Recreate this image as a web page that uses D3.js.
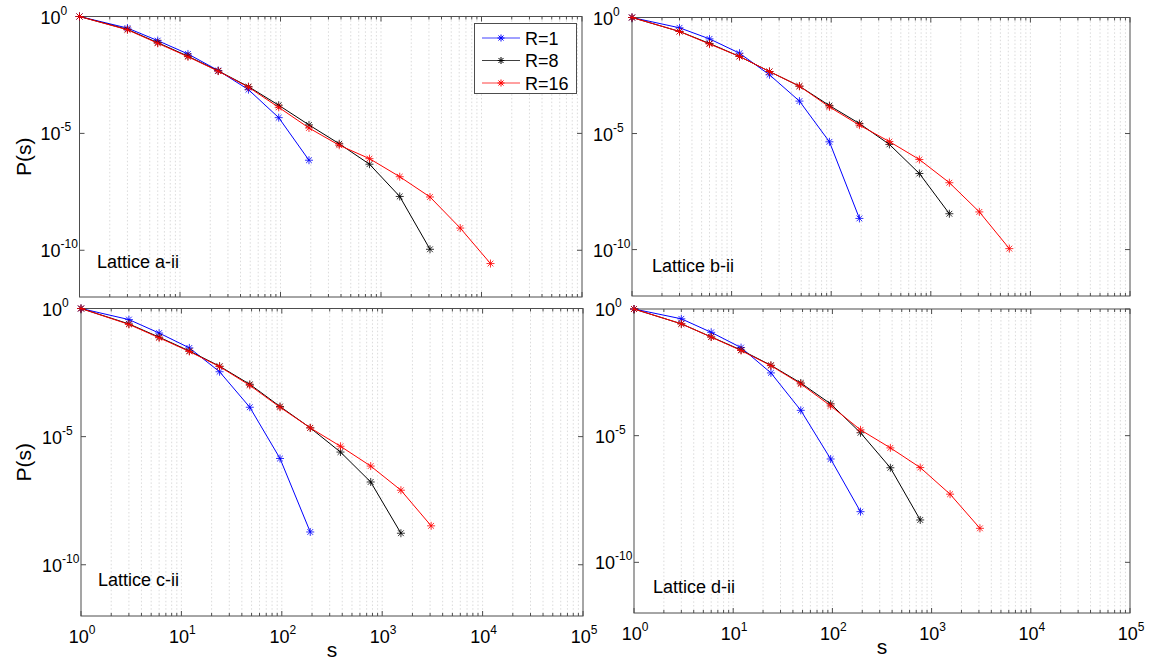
<!DOCTYPE html>
<html>
<head>
<meta charset="utf-8">
<script src="https://cdn.jsdelivr.net/npm/d3@7"></script>
<style>
  html, body { margin: 0; padding: 0; background: #fff; }
  svg { display: block; font-family: "Liberation Sans", Arial, sans-serif; }
</style>
</head>
<body>
<svg id="chart" width="1152" height="665"></svg>
<script>
// Avalanche size s (bin positions shared by every series)
const sizes = [1, 3, 6, 12, 24, 48, 96, 192, 384, 768, 1536, 3072, 6144, 12288];

// Series labels and colours
const seriesNames = ["R=1", "R=8", "R=16"];
const seriesColors = ["#0000ff", "#000000", "#ff0000"];

// P(s) for lattice a-ii
const aR1  = [1, 3.2e-1, 9.3e-2, 2.5e-2, 4.9e-3, 7.4e-4, 4.7e-5, 7.1e-7];
const aR8  = [1, 2.8e-1, 7.6e-2, 2.0e-2, 4.7e-3, 1.0e-3, 1.6e-4, 2.3e-5, 3.6e-6, 4.8e-7, 2.0e-8, 1.1e-10];
const aR16 = [1, 2.7e-1, 7.2e-2, 1.9e-2, 4.6e-3, 9.5e-4, 1.3e-4, 1.7e-5, 3.1e-6, 8.3e-7, 1.4e-7, 1.9e-8, 8.9e-10, 2.7e-11];

// P(s) for lattice b-ii
const bR1  = [1, 3.6e-1, 1.2e-1, 2.9e-2, 3.4e-3, 2.5e-4, 4.4e-6, 2.2e-9];
const bR8  = [1, 2.5e-1, 7.6e-2, 2.1e-2, 4.7e-3, 1.1e-3, 1.6e-4, 2.7e-5, 3.4e-6, 1.9e-7, 3.5e-9];
const bR16 = [1, 2.5e-1, 7.2e-2, 2.1e-2, 4.7e-3, 1.1e-3, 1.4e-4, 2.3e-5, 4.5e-6, 7.6e-7, 7.6e-8, 4.2e-9, 1.1e-10];

// P(s) for lattice c-ii
const cR1  = [1, 3.7e-1, 1.1e-1, 2.9e-2, 3.4e-3, 1.4e-4, 1.4e-6, 1.9e-9];
const cR8  = [1, 2.5e-1, 7.6e-2, 2.2e-2, 5.6e-3, 1.1e-3, 1.5e-4, 2.2e-5, 2.5e-6, 1.7e-7, 1.7e-9];
const cR16 = [1, 2.4e-1, 7.2e-2, 2.1e-2, 5.4e-3, 1.0e-3, 1.4e-4, 2.2e-5, 4.2e-6, 7.1e-7, 8.1e-8, 3.3e-9];

// P(s) for lattice d-ii
const dR1  = [1, 4.1e-1, 1.2e-1, 3.0e-2, 3.0e-3, 1.0e-4, 1.2e-6, 1.0e-8];
const dR8  = [1, 2.6e-1, 7.9e-2, 2.4e-2, 6.0e-3, 1.2e-3, 1.8e-4, 1.3e-5, 5.4e-7, 4.7e-9];
const dR16 = [1, 2.6e-1, 7.8e-2, 2.3e-2, 5.8e-3, 1.1e-3, 1.5e-4, 1.7e-5, 3.3e-6, 5.5e-7, 4.9e-8, 2.2e-9];

// Axis ticks
const xTickExps = [0, 1, 2, 3, 4, 5];
const yTickExps = [0, -5, -10];
const panelTitles = ["Lattice a-ii", "Lattice b-ii", "Lattice c-ii", "Lattice d-ii"];

// Subplot frames (pixels) and per-panel decorations
const layout = [
  { x0: 79.5, x1: 582, y0: 16.5, y1: 297, xLabels: false, yTitle: true,  legend: true,  tx: 97,  ty: 268 },
  { x0: 632,  x1: 1130, y0: 17.5, y1: 296, xLabels: false, yTitle: false, legend: false, tx: 652, ty: 272 },
  { x0: 81,   x1: 583, y0: 308.5, y1: 616, xLabels: true,  yTitle: true,  legend: false, tx: 98,  ty: 586 },
  { x0: 634,  x1: 1130, y0: 309, y1: 613, xLabels: true,  yTitle: false, legend: false, tx: 653, ty: 593 }
];
const panelSeries = [
  [aR1, aR8, aR16],
  [bR1, bR8, bR16],
  [cR1, cR8, cR16],
  [dR1, dR8, dR16]
];

const svg = d3.select("#chart");
const axisColor = "#4d4d4d";

// Asterisk marker centred on the origin
function asterisk(r) {
  const d = r * 0.72;
  return `M${-r},0H${r}M0,${-r}V${r}M${-d},${-d}L${d},${d}M${-d},${d}L${d},${-d}`;
}

// "10" with a superscript exponent
function powerLabel(sel, exp) {
  sel.append("tspan").text("10");
  sel.append("tspan").attr("dy", -9).attr("font-size", 12).text(exp);
}

layout.forEach((L, pi) => {
  const g = svg.append("g");
  const x = d3.scaleLog().domain([1, 1e5]).range([L.x0, L.x1]);
  const y = d3.scaleLog().domain([1e-12, 1]).range([L.y1, L.y0]);

  g.append("rect").attr("x", L.x0).attr("y", L.y0)
    .attr("width", L.x1 - L.x0).attr("height", L.y1 - L.y0).attr("fill", "#fff");

  // x positions of major and minor ticks
  const xMinor = [];
  for (let k = 0; k < 5; k++) for (let m = 2; m <= 9; m++) xMinor.push(m * Math.pow(10, k));
  const xMajor = xTickExps.map(e => Math.pow(10, e));

  // dotted vertical grid
  g.selectAll(".grid").data(xMinor.concat(xMajor.slice(1, -1))).enter().append("line")
    .attr("x1", d => x(d)).attr("x2", d => x(d))
    .attr("y1", L.y0).attr("y2", L.y1)
    .attr("stroke", "#d2d2d2").attr("stroke-width", 0.8)
    .attr("stroke-dasharray", "1.5,2.2");

  // inward ticks on bottom and top edges
  const xt = xMinor.map(v => ({ v, len: 3 })).concat(xMajor.map(v => ({ v, len: 5 })));
  [L.y1, L.y0].forEach((yy, side) => {
    g.selectAll(null).data(xt).enter().append("line")
      .attr("x1", d => x(d.v)).attr("x2", d => x(d.v))
      .attr("y1", yy).attr("y2", d => side === 0 ? yy - d.len : yy + d.len)
      .attr("stroke", axisColor).attr("stroke-width", 1);
  });
  // inward ticks on left and right edges
  [L.x0, L.x1].forEach((xx, side) => {
    g.selectAll(null).data(yTickExps).enter().append("line")
      .attr("x1", xx).attr("x2", side === 0 ? xx + 5 : xx - 5)
      .attr("y1", d => y(Math.pow(10, d))).attr("y2", d => y(Math.pow(10, d)))
      .attr("stroke", axisColor).attr("stroke-width", 1);
  });

  // frame
  g.append("rect").attr("x", L.x0).attr("y", L.y0)
    .attr("width", L.x1 - L.x0).attr("height", L.y1 - L.y0)
    .attr("fill", "none").attr("stroke", axisColor).attr("stroke-width", 1);

  // y tick labels
  yTickExps.forEach(e => {
    const t = g.append("text").attr("x", L.x0 - 39).attr("y", y(Math.pow(10, e)) + 7)
      .attr("font-size", 18).attr("fill", "#000");
    powerLabel(t, e === 0 ? "0" : "-" + Math.abs(e));
  });

  // x tick labels
  if (L.xLabels) {
    xTickExps.forEach(e => {
      const t = g.append("text").attr("x", x(Math.pow(10, e)) + 1).attr("y", L.y1 + 27)
        .attr("font-size", 18).attr("fill", "#000").attr("text-anchor", "middle");
      powerLabel(t, String(e));
    });
    g.append("text").attr("x", (L.x0 + L.x1) / 2).attr("y", L.y1 + 41)
      .attr("font-size", 21).attr("text-anchor", "middle").attr("fill", "#000").text("s");
  }

  if (L.yTitle) {
    const cy = (L.y0 + L.y1) / 2;
    g.append("text").attr("transform", `translate(31,${cy}) rotate(-90)`)
      .attr("font-size", 21).attr("text-anchor", "middle").attr("fill", "#000").text("P(s)");
  }

  // series lines and markers
  panelSeries[pi].forEach((vals, si) => {
    const pts = vals.map((v, i) => [sizes[i], v]);
    g.append("path").datum(pts)
      .attr("d", d3.line().x(d => x(d[0])).y(d => y(d[1])))
      .attr("fill", "none").attr("stroke", seriesColors[si]).attr("stroke-width", 1);
    g.selectAll(null).data(pts).enter().append("path")
      .attr("transform", d => `translate(${x(d[0])},${y(d[1])})`)
      .attr("d", asterisk(4))
      .attr("fill", "none").attr("stroke", seriesColors[si]).attr("stroke-width", 1)
      .attr("stroke-opacity", 0.8);
  });

  g.append("text").attr("x", L.tx).attr("y", L.ty)
    .attr("font-size", 18).attr("fill", "#000").text(panelTitles[pi]);

  if (L.legend) {
    const lg = g.append("g");
    lg.append("rect").attr("x", 474.5).attr("y", 23.5).attr("width", 102).attr("height", 70)
      .attr("fill", "#fff").attr("stroke", axisColor).attr("stroke-width", 1);
    seriesNames.forEach((name, i) => {
      const yy = 38 + i * 22.5;
      lg.append("line").attr("x1", 482).attr("x2", 520).attr("y1", yy).attr("y2", yy)
        .attr("stroke", seriesColors[i]).attr("stroke-width", 1).attr("stroke-opacity", 0.75);
      lg.append("path").attr("transform", `translate(501,${yy})`).attr("d", asterisk(3.5))
        .attr("fill", "none").attr("stroke", seriesColors[i]).attr("stroke-width", 1);
      lg.append("text").attr("x", 525).attr("y", yy + 6.5).attr("font-size", 18)
        .attr("fill", "#000").text(name);
    });
  }
});
</script>
</body>
</html>
